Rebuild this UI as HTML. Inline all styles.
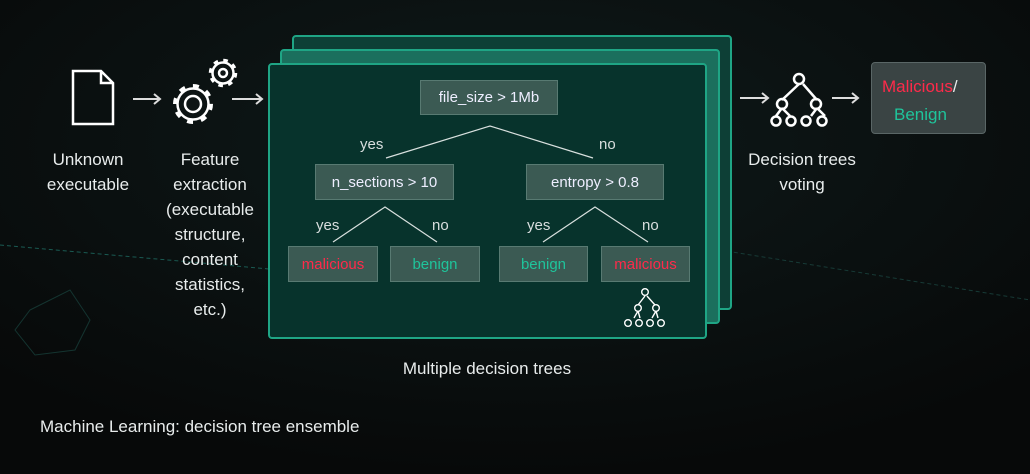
<!DOCTYPE html>
<html><head><meta charset="utf-8"><style>
body{margin:0;width:1030px;height:474px;overflow:hidden;background:#0a0e0f;font-family:"Liberation Sans",sans-serif;color:#e8ecec;position:relative}
.t{position:absolute;font-size:16px;line-height:25px;text-align:center;white-space:nowrap}
.p{position:absolute;border:2px solid #1fa585;border-radius:4px}
.b{position:absolute;background:#3b5a53;border:1px solid #587a72;color:#eef;font-size:15px;display:flex;align-items:center;justify-content:center;box-sizing:border-box}
.r{color:#ff2a4a}.g{color:#1fc49b}
.l{position:absolute;font-size:15px;color:#d8dede}
</style></head><body>
<svg width="1030" height="474" style="position:absolute;left:0;top:0">
<defs><radialGradient id="bg" cx="0.5" cy="0.3" r="0.7"><stop offset="0" stop-color="#0f1a1a"/><stop offset="1" stop-color="#070909"/></radialGradient></defs>
<rect width="1030" height="474" fill="url(#bg)"/>
<line x1="0" y1="245" x2="280" y2="270" stroke="#1a5a52" stroke-dasharray="4 3"/>
<line x1="720" y1="250" x2="1030" y2="300" stroke="#173a36" stroke-dasharray="4 3"/>
<polygon points="30,310 70,290 90,320 75,350 35,355 15,330" fill="none" stroke="#143430"/>
<path d="M73,71 H101 L113,83 V124 H73 Z M101,71 V83 H113" fill="none" stroke="#fff" stroke-width="2.5"/>
<g stroke="#ddd" stroke-width="2" fill="none">
<path d="M133,99 H160 M154,94 L160,99 L154,104"/>
<path d="M232,99 H262 M256,94 L262,99 L256,104"/>
<path d="M740,98 H768 M762,93 L768,98 L762,103"/>
<path d="M832,98 H858 M852,93 L858,98 L852,103"/>
</g>
<g fill="none" stroke="#fff">
<circle cx="193" cy="104" r="18" stroke-width="4" stroke-dasharray="6 8.1"/>
<circle cx="193" cy="104" r="15.5" fill="#0d1414" stroke-width="2.5"/>
<circle cx="193" cy="104" r="8" stroke-width="2.5"/>
<circle cx="223" cy="73" r="12.5" stroke-width="3.5" stroke-dasharray="4.5 5.3"/>
<circle cx="223" cy="73" r="10.5" fill="#0d1414" stroke-width="2.5"/>
<circle cx="223" cy="73" r="4" stroke-width="2.5"/>
</g>
<g fill="none" stroke="#fff" stroke-width="2.5">
<path d="M799,84 L782,100 M803,84 L817,100 M782,108 L776,116 M782,108 L790,116 M817,108 L811,116 M817,108 L825,116"/>
<circle cx="799" cy="79" r="5"/><circle cx="782" cy="104" r="5"/><circle cx="816" cy="104" r="5"/>
<circle cx="776" cy="121" r="4.5"/><circle cx="791" cy="121" r="4.5"/><circle cx="806" cy="121" r="4.5"/><circle cx="822" cy="121" r="4.5"/>
</g>
</svg>
<div class="p" style="left:292px;top:35px;width:436px;height:271px;background:#0d3f36"></div>
<div class="p" style="left:280px;top:49px;width:436px;height:271px;background:#1b6f5d"></div>
<div class="p" style="left:268px;top:63px;width:435px;height:272px;background:#07332c"></div>
<svg width="1030" height="474" style="position:absolute;left:0;top:0">
<g stroke="#d8e0de" stroke-width="1.2" fill="none">
<path d="M386,158 L490,126 L593,158"/>
<path d="M333,242 L385,207 L437,242"/>
<path d="M543,242 L595,207 L648,242"/>
</g>
<g fill="none" stroke="#fff" stroke-width="1.4">
<path d="M645,296 L638,305 M647,296 L655,305 M638,311 L634,318 M638,311 L640,318 M656,311 L652,318 M656,311 L658,318"/>
<circle cx="645" cy="292" r="3.3"/><circle cx="638" cy="308" r="3.3"/><circle cx="656" cy="308" r="3.3"/>
<circle cx="628" cy="323" r="3.3"/><circle cx="639" cy="323" r="3.3"/><circle cx="650" cy="323" r="3.3"/><circle cx="661" cy="323" r="3.3"/>
</g>
</svg>
<div class="b" style="left:420px;top:80px;width:138px;height:35px">file_size &gt; 1Mb</div>
<div class="b" style="left:315px;top:164px;width:139px;height:36px">n_sections &gt; 10</div>
<div class="b" style="left:526px;top:164px;width:138px;height:36px">entropy &gt; 0.8</div>
<div class="b r" style="left:288px;top:246px;width:90px;height:36px">malicious</div>
<div class="b g" style="left:390px;top:246px;width:90px;height:36px">benign</div>
<div class="b g" style="left:499px;top:246px;width:89px;height:36px">benign</div>
<div class="b r" style="left:601px;top:246px;width:89px;height:36px">malicious</div>
<div class="l" style="left:360px;top:136px">yes</div>
<div class="l" style="left:599px;top:136px">no</div>
<div class="l" style="left:316px;top:217px">yes</div>
<div class="l" style="left:432px;top:217px">no</div>
<div class="l" style="left:527px;top:217px">yes</div>
<div class="l" style="left:642px;top:217px">no</div>
<div class="t" style="left:38px;top:147px;width:100px;font-size:17px">Unknown<br>executable</div>
<div class="t" style="left:155px;top:147px;width:110px;font-size:17px">Feature<br>extraction<br>(executable<br>structure,<br>content<br>statistics,<br>etc.)</div>
<div class="t" style="left:732px;top:147px;width:140px;font-size:17px">Decision trees<br>voting</div>
<div style="position:absolute;left:871px;top:62px;width:115px;height:72px;box-sizing:border-box;background:#3a4444;border:1px solid #5a6666;border-radius:4px;font-size:17px;line-height:28px;padding:10px 0 0 10px"><span class="r">Malicious</span>/<br><span class="g" style="margin-left:12px">Benign</span></div>
<div class="t" style="left:387px;top:356px;width:200px;font-size:17px">Multiple decision trees</div>
<div class="t" style="left:40px;top:414px;text-align:left;font-size:17px">Machine Learning: decision tree ensemble</div>
</body></html>
